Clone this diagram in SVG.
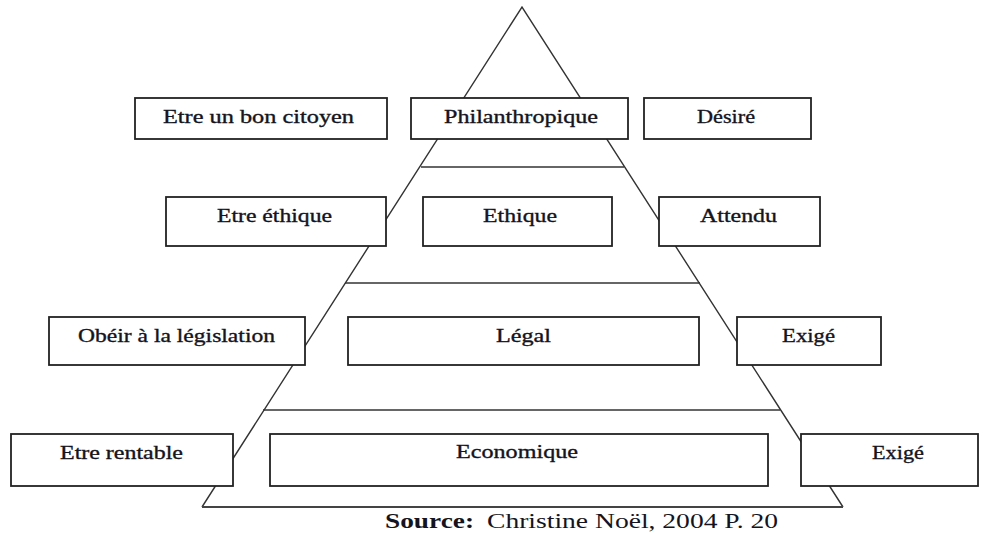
<svg xmlns="http://www.w3.org/2000/svg" width="984" height="533" viewBox="0 0 984 533">
  <style>
    .edge { stroke: #333; stroke-width: 1.4; fill: none; }
    .base { stroke: #444; stroke-width: 2.2; fill: none; }
    .box { fill: #fff; stroke: #222; stroke-width: 1.8; }
    .lbl { font-family: "Liberation Serif", "DejaVu Serif", serif; font-size: 19px; fill: #141420; stroke: #141420; stroke-width: 0.35; text-anchor: start; }
    .src { font-family: "Liberation Serif", "DejaVu Serif", serif; font-size: 21px; fill: #141420; }
  </style>
  <rect width="984" height="533" fill="#fff"/>

  <!-- pyramid outline and level separators -->
  <g id="connectors">
    <polyline class="edge" points="202,507 522,7 843,507"/>
    <line class="base" x1="202" y1="507" x2="843" y2="507"/>
    <line class="edge" x1="421" y1="167" x2="624" y2="167"/>
    <line class="edge" x1="345" y1="283" x2="700" y2="283"/>
    <line class="edge" x1="263" y1="410" x2="780" y2="410"/>
  </g>

  <!-- level 4 -->
  <g id="n-bon-citoyen">
    <rect class="box" x="135" y="98" width="252" height="41"/>
    <text class="lbl" x="163" y="123" textLength="191" lengthAdjust="spacingAndGlyphs">Etre un bon citoyen</text>
  </g>
  <g id="n-philanthropique">
    <rect class="box" x="411" y="98" width="217" height="41"/>
    <text class="lbl" x="444" y="123" textLength="154" lengthAdjust="spacingAndGlyphs">Philanthropique</text>
  </g>
  <g id="n-desire">
    <rect class="box" x="644" y="98" width="167" height="41"/>
    <text class="lbl" x="697" y="123" textLength="58" lengthAdjust="spacingAndGlyphs">Désiré</text>
  </g>

  <!-- level 3 -->
  <g id="n-etre-ethique">
    <rect class="box" x="166" y="197" width="220" height="49"/>
    <text class="lbl" x="217" y="222" textLength="115" lengthAdjust="spacingAndGlyphs">Etre éthique</text>
  </g>
  <g id="n-ethique">
    <rect class="box" x="423" y="197" width="189" height="49"/>
    <text class="lbl" x="483" y="222" textLength="74" lengthAdjust="spacingAndGlyphs">Ethique</text>
  </g>
  <g id="n-attendu">
    <rect class="box" x="659" y="197" width="161" height="49"/>
    <text class="lbl" x="700" y="222" textLength="77" lengthAdjust="spacingAndGlyphs">Attendu</text>
  </g>

  <!-- level 2 -->
  <g id="n-obeir">
    <rect class="box" x="49" y="317" width="256" height="48"/>
    <text class="lbl" x="78" y="342" textLength="197" lengthAdjust="spacingAndGlyphs">Obéir à la législation</text>
  </g>
  <g id="n-legal">
    <rect class="box" x="348" y="317" width="351" height="48"/>
    <text class="lbl" x="496" y="342" textLength="55" lengthAdjust="spacingAndGlyphs">Légal</text>
  </g>
  <g id="n-exige-1">
    <rect class="box" x="737" y="317" width="144" height="48"/>
    <text class="lbl" x="782" y="342" textLength="53" lengthAdjust="spacingAndGlyphs">Exigé</text>
  </g>

  <!-- level 1 -->
  <g id="n-rentable">
    <rect class="box" x="11" y="434" width="222" height="52"/>
    <text class="lbl" x="60" y="459" textLength="123" lengthAdjust="spacingAndGlyphs">Etre rentable</text>
  </g>
  <g id="n-economique">
    <rect class="box" x="270" y="434" width="498" height="52"/>
    <text class="lbl" x="456" y="458" textLength="122" lengthAdjust="spacingAndGlyphs">Economique</text>
  </g>
  <g id="n-exige-2">
    <rect class="box" x="801" y="434" width="177" height="52"/>
    <text class="lbl" x="872" y="459" textLength="52" lengthAdjust="spacingAndGlyphs">Exigé</text>
  </g>

  <!-- caption -->
  <g id="caption">
    <text class="src" x="385" y="528" font-weight="bold" textLength="89" lengthAdjust="spacingAndGlyphs">Source:</text>
    <text class="src" x="487" y="528" textLength="291" lengthAdjust="spacingAndGlyphs">Christine Noël, 2004 P. 20</text>
  </g>
</svg>
